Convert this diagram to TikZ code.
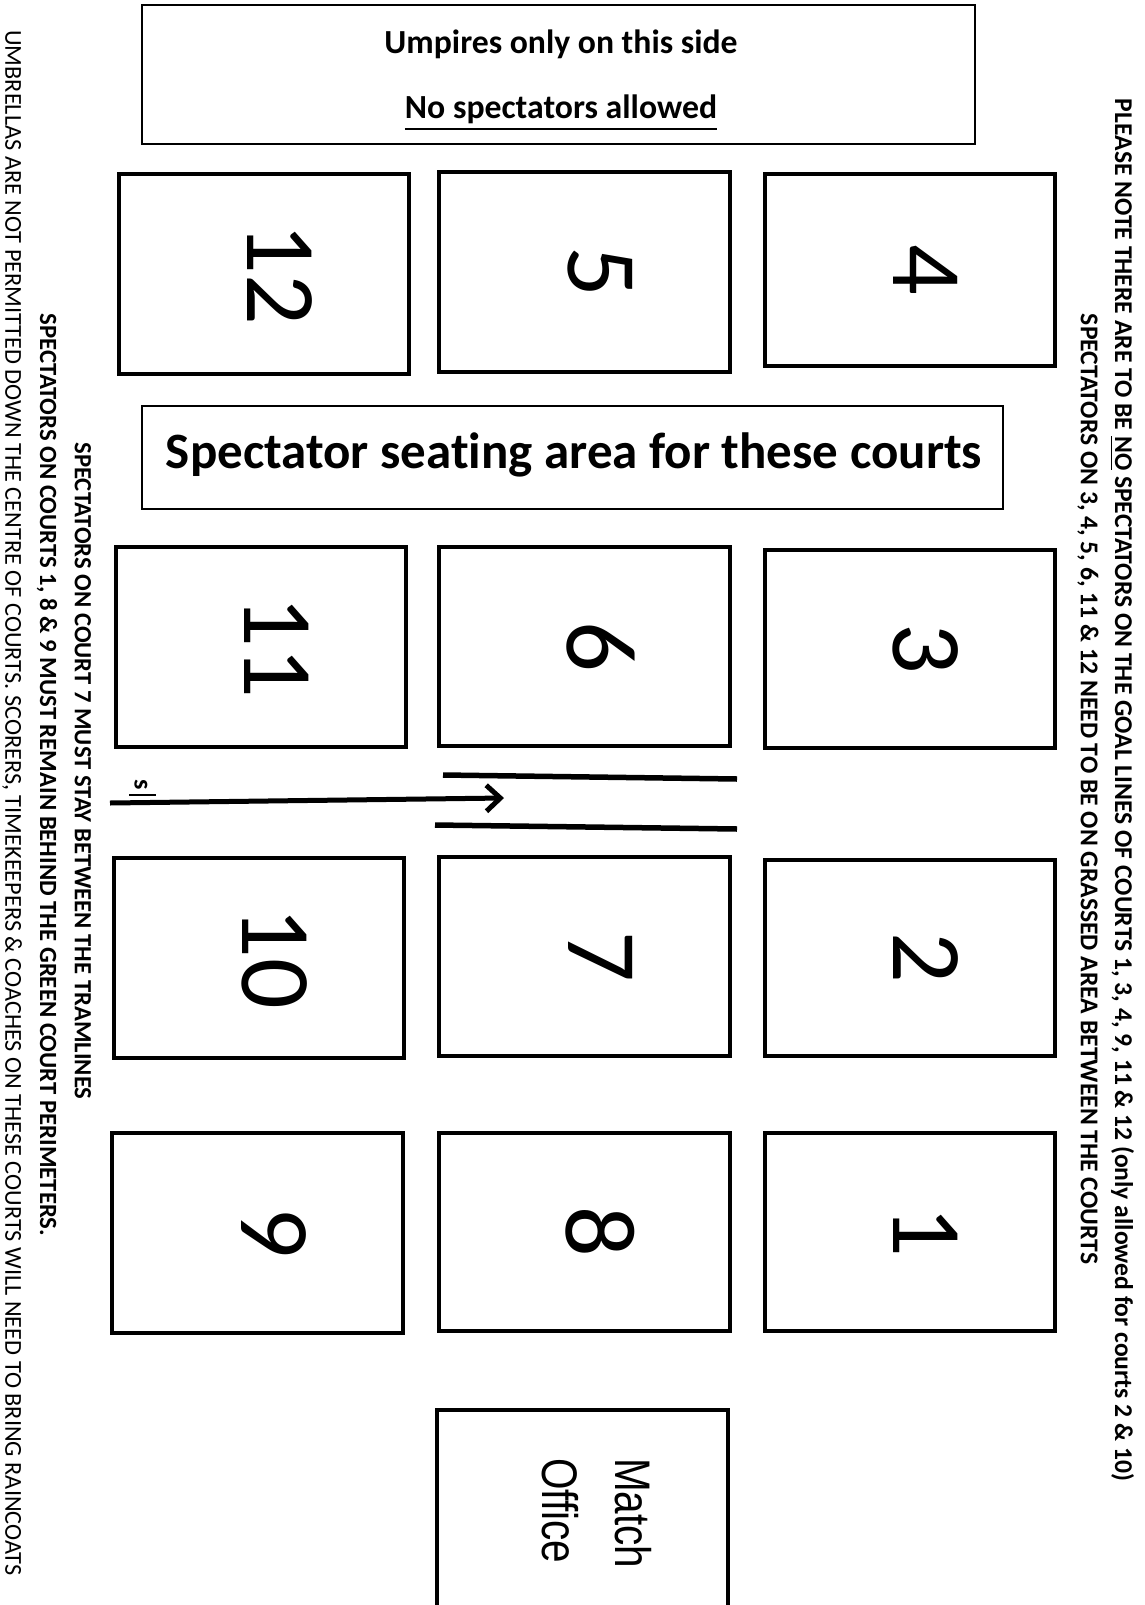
\documentclass[tikz,border=0pt]{standalone}
\usepackage{fontspec}
\setmainfont{Carlito}[Ligatures=NoCommon]
\newfontfamily\arialf{Liberation Sans}
\usetikzlibrary{arrows.meta}
\begin{document}
\begin{tikzpicture}[x=1pt,y=-1pt,
  court/.style={draw, line width=4pt, minimum width=290pt, minimum height=200pt, inner sep=0pt},
  num/.style={rotate=-90, font=\fontsize{100}{100}\selectfont, inner sep=0pt},
  thinbox/.style={draw, line width=1.5pt, inner sep=0pt},
  side/.style={rotate=-90, inner sep=0pt},
  tram/.style={line width=5.5pt},
  plain/.style={inner sep=0pt}
]
\useasboundingbox[fill=white] (0,0) rectangle (1144,1605);

% top box
\node[thinbox, minimum width=833pt, minimum height=139pt] (top) at (558.5,74.5) {};
\node[plain] (t1) at (561,44) {\resizebox{353pt}{!}{\bfseries Umpires only on this side}};
\node[plain] (t2) at (561,113) {\resizebox{312pt}{!}{\bfseries\underline{No spectators allowed}}};

% spectator seating box
\node[thinbox, minimum width=861pt, minimum height=103pt] (seat) at (572.5,457.5) {};
\node[plain] (seattext) at (574,455) {\resizebox{816pt}{!}{\bfseries Spectator seating area for these courts}};

% courts
\node[court] (c12) at (264,274) {};
\node[court, minimum width=291pt] (c5) at (584.5,272) {};
\node[court, minimum height=192pt] (c4) at (910,270) {};
\node[court] (c11) at (261,647) {};
\node[court, minimum width=291pt, minimum height=199pt] (c6) at (584.5,646.5) {};
\node[court, minimum height=198pt] (c3) at (910,649) {};
\node[court] (c10) at (259,958) {};
\node[court, minimum width=291pt, minimum height=199pt] (c7) at (584.5,956.5) {};
\node[court, minimum height=196pt] (c2) at (910,958) {};
\node[court, minimum width=291pt] (c9) at (257.5,1233) {};
\node[court, minimum width=291pt, minimum height=198pt] (c8) at (584.5,1232) {};
\node[court, minimum height=198pt] (c1) at (910,1232) {};

\foreach \c in {12,5,4,11,6,3,10,7,2,9,8,1}{
  \node[num] (n\c) at ([xshift=16pt]c\c.center) {\c};
}

% match office
\node[court, minimum width=291pt, minimum height=220pt] (office) at (582.5,1520) {};
\node[plain, rotate=-90, anchor=west, align=left, font=\arialf\fontsize{50}{73}\selectfont] (officetext) at (597,1458) {\scalebox{0.81}[1]{Match}\\\scalebox{0.81}[1]{Office}};

% tramlines and arrow
\coordinate (tA1) at (443,775);
\coordinate (tA2) at (737,779);
\coordinate (tB1) at (435,825);
\coordinate (tB2) at (737,829);
\draw[tram] (tA1) -- (tA2);
\draw[tram] (tB1) -- (tB2);
\coordinate (ar1) at (110,803);
\coordinate (ar2) at (504,798);
\draw[line width=5pt, -{Straight Barb[length=14pt,width=26pt]}] (ar1) -- (ar2);
\node[plain, rotate=-90, font=\bfseries\fontsize{26}{26}\selectfont] (s) at (141,785) {s};
\coordinate (u1) at (129,795);
\coordinate (u2) at (156,795);
\draw[line width=2pt] (u1) -- (u2);

% side texts
\node[side] (p1) at (1122,790) {\resizebox{1382pt}{!}{\bfseries PLEASE NOTE THERE ARE TO BE \underline{NO} SPECTATORS ON THE GOAL LINES OF COURTS 1, 3, 4, 9, 11 \& 12 (only allowed for courts 2 \& 10)}};
\node[side] (p2) at (1088,789) {\resizebox{950pt}{!}{\bfseries SPECTATORS ON 3, 4, 5, 6, 11 \& 12 NEED TO BE ON GRASSED AREA BETWEEN THE COURTS}};
\node[side] (l1) at (83,771) {\resizebox{657pt}{!}{\bfseries SPECTATORS ON COURT 7 MUST STAY BETWEEN THE TRAMLINES}};
\node[side] (l2) at (47,775) {\resizebox{922pt}{!}{\bfseries SPECTATORS ON COURTS 1, 8 \& 9 MUST REMAIN BEHIND THE GREEN COURT PERIMETERS.}};
\node[side] (l3) at (12,803) {\resizebox{1545pt}{!}{UMBRELLAS ARE NOT PERMITTED DOWN THE CENTRE OF COURTS. SCORERS, TIMEKEEPERS \& COACHES ON THESE COURTS WILL NEED TO BRING RAINCOATS}};
\end{tikzpicture}
\end{document}
